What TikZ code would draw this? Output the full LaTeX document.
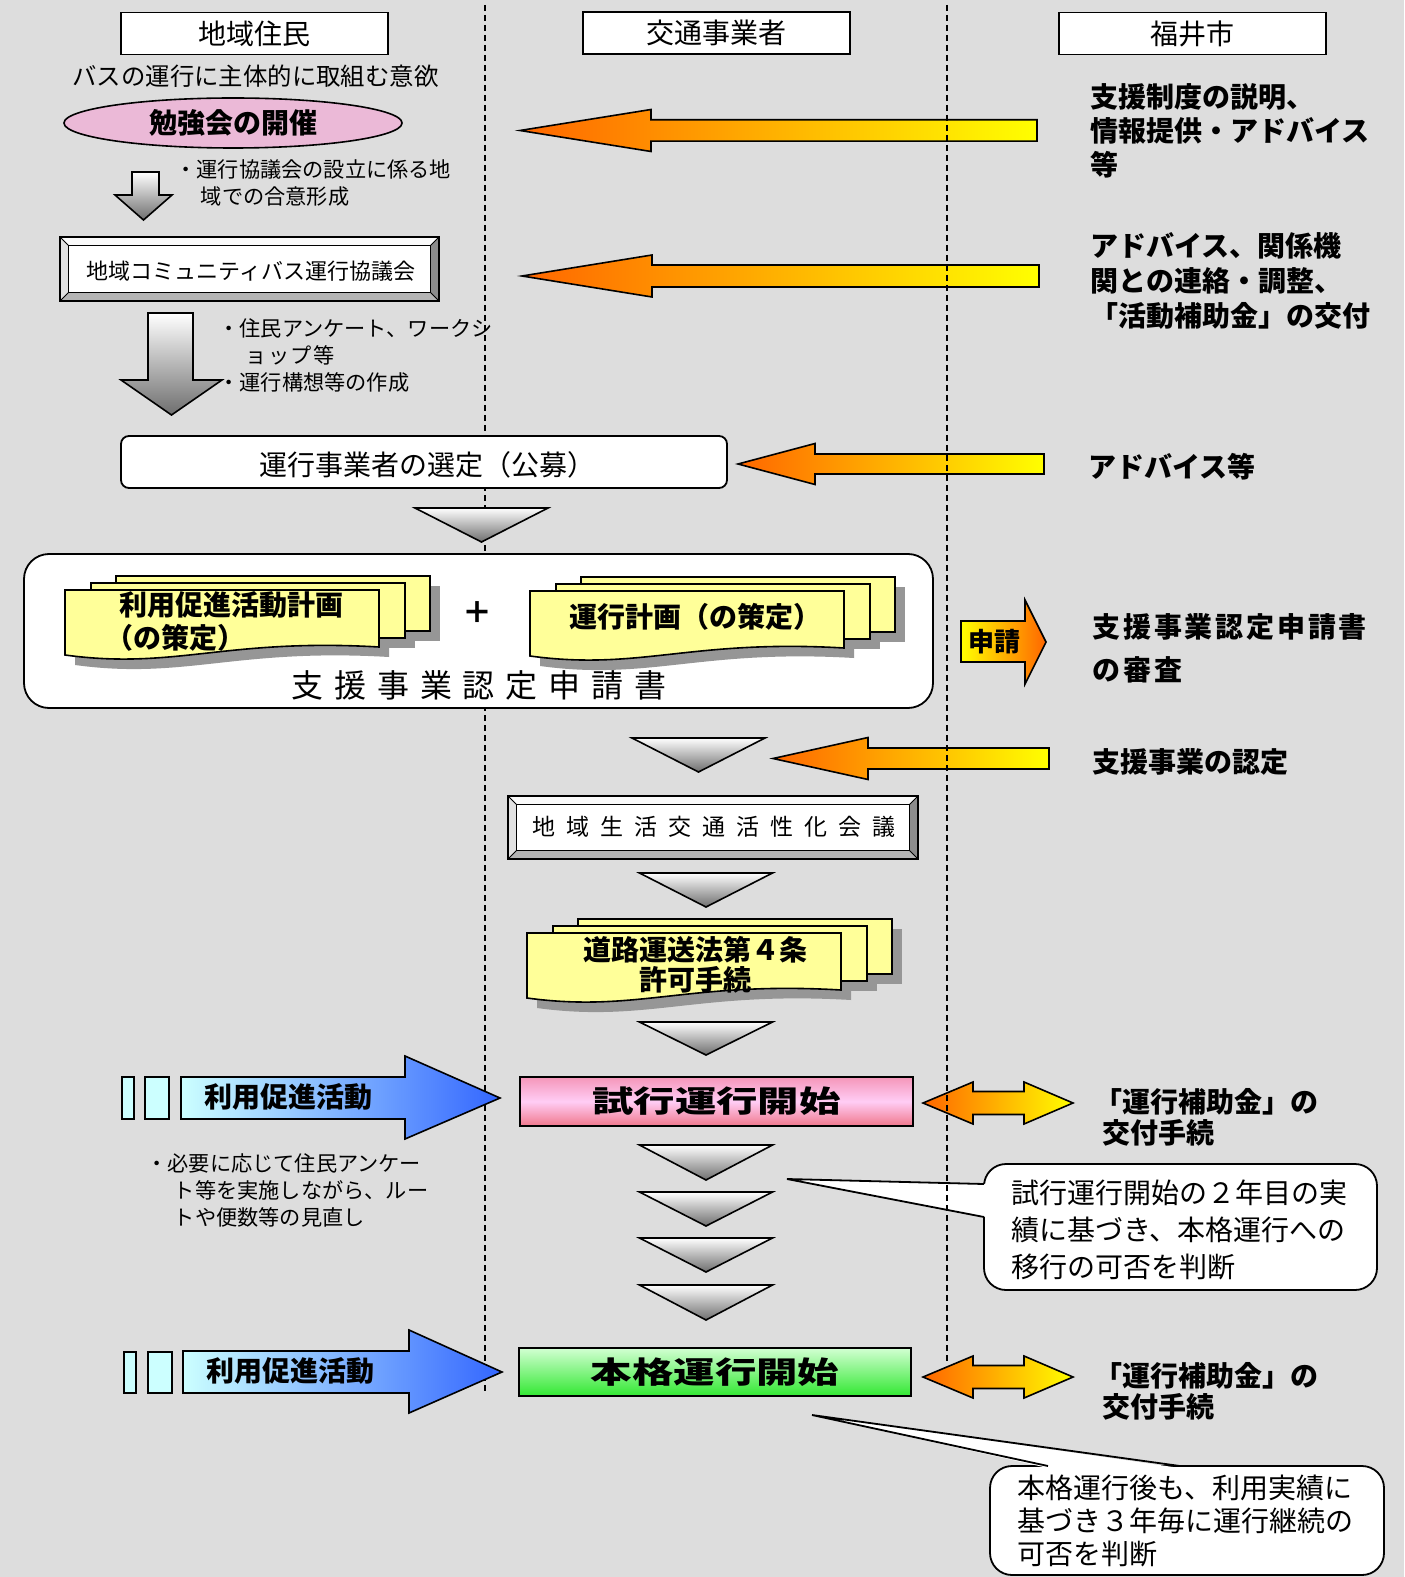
\documentclass[tikz,border=0pt]{standalone}
\usepackage{fontspec}
\setmainfont{Noto Sans CJK JP}
\usetikzlibrary{shapes.geometric}
\definecolor{bg}{RGB}{221,221,221}
\definecolor{pinkell}{RGB}{235,185,215}
\definecolor{docy}{RGB}{255,255,153}
\definecolor{docsh}{RGB}{150,150,150}
\definecolor{orng}{RGB}{255,102,0}
\definecolor{ylw}{RGB}{255,255,0}
\definecolor{lcyan}{RGB}{204,255,255}
\definecolor{blu}{RGB}{51,102,255}
\definecolor{trigray}{RGB}{110,110,110}
\definecolor{pinkA}{RGB}{245,150,185}
\definecolor{pinkB}{RGB}{255,205,245}
\definecolor{pinkC}{RGB}{240,120,140}
\definecolor{grnA}{RGB}{210,255,210}
\definecolor{grnB}{RGB}{50,232,50}
\definecolor{bevT}{RGB}{250,250,250}
\definecolor{bevLf}{RGB}{225,225,225}
\definecolor{bevB}{RGB}{180,180,180}
\definecolor{bevR}{RGB}{140,140,140}
\newcommand\fz[2]{\fontsize{#1}{#2}\selectfont}
\newcommand\bevelbox[5]{%
  \fill[bevR] (#1,#2) rectangle (#3,#4);
  \fill[bevT] (#1,#2) -- (#3,#2) -- ({#3-#5},{#2+#5}) -- ({#1+#5},{#2+#5}) -- cycle;
  \fill[bevLf] (#1,#2) -- ({#1+#5},{#2+#5}) -- ({#1+#5},{#4-#5}) -- (#1,#4) -- cycle;
  \fill[bevB] (#1,#4) -- ({#1+#5},{#4-#5}) -- ({#3-#5},{#4-#5}) -- (#3,#4) -- cycle;
  \draw[line width=0.5pt] (#1,#2) -- ({#1+#5},{#2+#5}) (#3,#2) -- ({#3-#5},{#2+#5})
     (#1,#4) -- ({#1+#5},{#4-#5}) (#3,#4) -- ({#3-#5},{#4-#5});
  \draw[line width=0.9pt] (#1,#2) rectangle (#3,#4);
  \draw[line width=0.9pt,fill=white] ({#1+#5},{#2+#5}) rectangle ({#3-#5},{#4-#5});
}
\newcommand\docstack[2]{%
  \begin{scope}[shift={(#1,#2)}]
    \fill[docsh] (61,-4) rectangle (375,51);
    \fill[docsh] (36,3) rectangle (350,58);
    \fill[docsh] (10,10) -- (324,10) -- (324,67) .. controls (170,58) and (120,90) .. (10,75) -- cycle;
    \draw[fill=docy,line width=0.8pt] (51,-14) rectangle (365,41);
    \draw[fill=docy,line width=0.8pt] (26,-7) rectangle (340,48);
    \draw[fill=docy,line width=0.8pt] (0,0) -- (314,0) -- (314,57) .. controls (160,48) and (110,80) .. (0,65) -- cycle;
  \end{scope}}
\newcommand\downtri[3]{%
  \path[draw=black,line width=0.8pt,top color=white,bottom color=trigray]
    ({#1-66.5},#2) -- ({#1+66.5},#2) -- (#1,#3) -- cycle;}
\newcommand\larrow[6]{% tipx headx tailx cy headhalf shafthalf
  \path[draw=black,line width=0.8pt,left color=orng,right color=ylw]
    (#1,#4) -- (#2,{#4-#5}) -- (#2,{#4-#6}) -- (#3,{#4-#6}) -- (#3,{#4+#6})
    -- (#2,{#4+#6}) -- (#2,{#4+#5}) -- cycle;}
\newcommand\dblarrow[1]{%
  \path[draw=black,line width=0.8pt,left color=orng,right color=ylw]
    (923,#1) -- (973,{#1-21}) -- (973,{#1-11.5}) -- (1024,{#1-11.5}) -- (1024,{#1-21})
    -- (1073,#1) -- (1024,{#1+21}) -- (1024,{#1+11.5}) -- (973,{#1+11.5}) -- (973,{#1+21}) -- cycle;}
\newcommand\bluearrow[4]{% x0 headx tipx yc
  \path[draw=black,line width=0.8pt,left color=lcyan,right color=blu]
    (#1,{#4-21}) -- (#2,{#4-21}) -- (#2,{#4-42}) -- (#3,#4) -- (#2,{#4+41})
    -- (#2,{#4+21}) -- (#1,{#4+21}) -- cycle;}
\begin{document}
\begin{tikzpicture}[x=0.5pt,y=-0.5pt,
  hdr/.style={draw,line width=0.9pt,fill=white,minimum width=133.5pt,minimum height=21pt,inner sep=0pt,font=\fz{14pt}{14pt}},
  rtxt/.style={anchor=west,align=left,inner sep=0pt,font=\bfseries\fz{14pt}{17pt}},
  note/.style={anchor=west,align=left,inner sep=0pt,font=\fz{10.6pt}{13.5pt}},
  dashln/.style={line width=0.7pt,dash pattern=on 3pt off 2pt},
  callbox/.style={draw=black,line width=0.9pt,fill=white,rounded corners=11pt}]
\fill[bg] (0,0) rectangle (1404,1577);
\useasboundingbox (0,0) rectangle (1404,1577);

% left lane divider
\coordinate (d1t) at (485,5); \coordinate (d1b) at (485,1392);
\draw[dashln] (d1t) -- (d1b);

% headers
\node[hdr] (h1) at (254.5,33.5) {地域住民};
\node[hdr] (h2) at (716.5,33) {交通事業者};
\node[hdr] (h3) at (1192.5,33.5) {福井市};

\node[inner sep=0pt,font=\fz{12.2pt}{12pt}] (iyoku) at (255.5,76) {バスの運行に主体的に取組む意欲};
\node[ellipse,draw,line width=0.8pt,fill=pinkell,minimum width=169pt,minimum height=25pt,inner sep=0pt,
  font=\bfseries\fz{14pt}{14pt}] (benkyo) at (233,123) {勉強会の開催};

% small down arrow
\path[draw=black,line width=0.8pt,top color=white,bottom color=trigray]
  (132,172) -- (159,172) -- (159,195) -- (172,195) -- (143.5,220) -- (115,195) -- (132,195) -- cycle;
\node[note] (n1) at (175,183.5) {・運行協議会の設立に係る地\\\hspace*{1.2em}域での合意形成};

% bevel box 1
\bevelbox{60}{237}{439}{301}{8.5}
\node[inner sep=0pt,font=\fz{11pt}{11pt}] (kyogikai) at (251,271) {地域コミュニティバス運行協議会};

% big down arrow
\path[draw=black,line width=0.8pt,top color=white,bottom color=trigray]
  (148,313) -- (193,313) -- (193,380) -- (222,380) -- (171.5,415) -- (121,380) -- (148,380) -- cycle;
\node[note] (n2) at (218,355) {・住民アンケート、ワークシ\\\hspace*{1.3em}ョ\hspace{0.6pt}ッ\hspace{0.6pt}プ\hspace{0.6pt}等\\・運行構想等の作成};

% selection box
\node[draw,line width=0.9pt,fill=white,rounded corners=4pt,minimum width=303pt,minimum height=26pt,
  inner sep=0pt] (sentei) at (424,462) {};
\node[inner sep=0pt,font=\fz{14pt}{14pt}] (senteitxt) at (427,465) {運行事業者の選定（公募）};
\downtri{481.5}{508}{542}

% big rounded box with documents
\node[draw,line width=0.9pt,fill=white,rounded corners=12.5pt,minimum width=454.5pt,minimum height=77pt,inner sep=0pt] (bigbox) at (478.5,631) {};
\docstack{65}{590}
\docstack{530}{591}
\node[anchor=west,align=left,inner sep=0pt,font=\bfseries\fz{14pt}{16.5pt}] (riyokeikaku) at (119,621)
  {利用促進活動計画\\\hspace*{-7pt}（の策定）};
\node[inner sep=0pt,font=\bfseries\fz{14pt}{14pt}] (unkokeikaku) at (695,617) {運行計画（の策定）};
\node[inner sep=0pt,font=\bfseries\fz{15pt}{15pt}] (plus) at (477,613) {＋};
\node[inner sep=0pt,font=\fz{16pt}{16pt}\addfontfeatures{LetterSpace=34}] (shinseisho) at (479,685) {支援事業認定申請書};

% shinsei arrow
\path[draw=black,line width=0.8pt,left color=ylw,right color=orng]
  (961,621) -- (1025,621) -- (1025,600) -- (1046,642) -- (1025,684) -- (1025,662) -- (961,662) -- cycle;
\node[inner sep=0pt,font=\bfseries\fz{13pt}{13pt}] (shinsei) at (994,642) {申請};

% triangle and approval arrow
\downtri{698.5}{738}{772}
\larrow{773}{868}{1049}{758.5}{21}{10.5}

% bevel box 2
\bevelbox{508}{796}{918}{859}{8.5}
\node[inner sep=0pt,font=\fz{11.5pt}{11.5pt}\addfontfeatures{LetterSpace=48}] (kasseika) at (714,827) {地域生活交通活性化会議};
\downtri{706}{873}{907}

% road transport law doc
\docstack{527}{933}
\node[align=center,inner sep=0pt,font=\bfseries\fz{14pt}{15pt}] (doro) at (695,965) {道路運送法第４条\\許可手続};
\downtri{706}{1022}{1055}

% trial operation row
\draw[line width=0.8pt,fill=lcyan] (122,1077) rectangle (134,1119);
\draw[line width=0.8pt,fill=lcyan] (145,1077) rectangle (169,1119);
\bluearrow{181}{405}{500}{1098}
\node[inner sep=0pt,font=\bfseries\fz{14pt}{14pt}] (riyo1) at (288,1097) {利用促進活動};
\node[draw,line width=0.9pt,top color=pinkA,bottom color=pinkC,middle color=pinkB,
  minimum width=196.5pt,minimum height=24.5pt,inner sep=0pt] (shiko) at (716.5,1101.5)
  {\scalebox{1.38}[1]{\bfseries\fz{15pt}{15pt}試行運行開始}};
\node[note] (n3) at (146,1190) {・必要に応じて住民アンケー\\\hspace*{1.3em}ト等を実施しながら、ルー\\\hspace*{1.3em}トや便数等の見直し};

\downtri{706}{1145}{1180}
\downtri{706}{1192}{1226}
\downtri{706}{1238}{1272}
\downtri{706}{1285}{1320}

% callout 1
\coordinate (c1tip) at (787,1179);
\path[callbox] (984,1164) rectangle (1377,1290);
\fill[white] (c1tip) -- (986,1184) -- (986,1217) -- cycle;
\draw[line width=0.9pt] (984,1184) -- (c1tip) -- (984,1217);
\node[anchor=west,align=left,inner sep=0pt,font=\fz{14pt}{18.5pt}] (call1) at (1011,1230)
  {試行運行開始の２年目の実\\績に基づき、本格運行への\\移行の可否を判断};

% full operation row
\draw[line width=0.8pt,fill=lcyan] (124,1352) rectangle (136,1393);
\draw[line width=0.8pt,fill=lcyan] (148,1352) rectangle (172,1393);
\bluearrow{183}{409}{502}{1372}
\node[inner sep=0pt,font=\bfseries\fz{14pt}{14pt}] (riyo2) at (290,1371) {利用促進活動};
\node[draw,line width=0.9pt,top color=grnA,bottom color=grnB,
  minimum width=196pt,minimum height=24pt,inner sep=0pt] (honkaku) at (715,1372)
  {\scalebox{1.38}[1]{\bfseries\fz{15pt}{15pt}本格運行開始}};

% callout 2
\coordinate (c2tip) at (812,1415);
\path[callbox] (990,1466) rectangle (1384,1575);
\fill[white] (c2tip) -- (1048,1468) -- (1180,1468) -- cycle;
\draw[line width=0.9pt] (1048,1466) -- (c2tip) -- (1180,1466);
\node[anchor=west,align=left,inner sep=0pt,font=\fz{14pt}{16.5pt}] (call2) at (1017,1521)
  {本格運行後も、利用実績に\\基づき３年毎に運行継続の\\可否を判断};

% right column arrows and texts
\larrow{520}{651}{1037}{130.5}{21}{10.7}
\larrow{522}{652}{1039}{276}{21}{11}
\larrow{738}{815}{1044}{464}{20.5}{10}
\dblarrow{1103}
\dblarrow{1377}

\node[rtxt] (t1) at (1090,131) {支援制度の説明、\\情報提供・アドバイス\\等};
\node[rtxt,font=\bfseries\fz{14pt}{17.7pt}] (t2) at (1090,281) {アドバイス、関係機\\関との連絡・調整、\\「活動補助金」の交付};
\node[rtxt] (t3) at (1088,467) {アドバイス等};
\node[rtxt,font=\bfseries\fz{14pt}{21.5pt}\addfontfeatures{LetterSpace=10}] (t4) at (1092,648) {支援事業認定申請書\\の審査};
\node[rtxt] (t5) at (1092,762) {支援事業の認定};
\node[rtxt,font=\bfseries\fz{14pt}{15.5pt}] (t6) at (1094,1117) {「運行補助金」の\\\hspace*{4pt}交付手続};
\node[rtxt,font=\bfseries\fz{14pt}{15.5pt}] (t7) at (1094,1391) {「運行補助金」の\\\hspace*{4pt}交付手続};

% right lane divider (on top)
\coordinate (d2t) at (947,5); \coordinate (d2b) at (947,1362);
\draw[dashln] (d2t) -- (d2b);
\end{tikzpicture}
\end{document}
